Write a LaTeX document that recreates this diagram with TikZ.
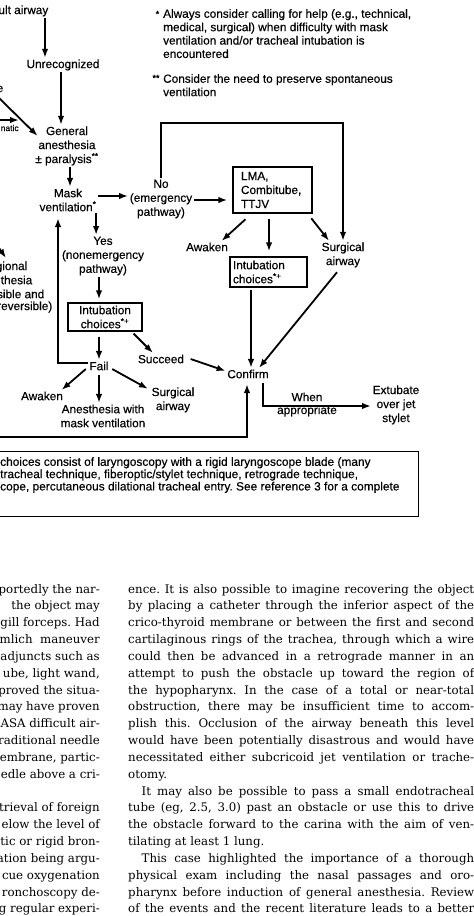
\documentclass[tikz,border=0pt]{standalone}
\usepackage{fontspec}
\setmainfont{DejaVu Serif}
\newfontfamily\diagsans[FakeBold=0.35]{Liberation Sans}
\usetikzlibrary{arrows.meta}
\frenchspacing
\newcommand\jl[1]{\makebox[346pt][s]{#1}}
\newcommand\ji[1]{\makebox[332.5pt][s]{#1}}
\begin{document}
\begin{tikzpicture}[x=1pt,y=-1pt,
  dg/.style={font=\diagsans\fontsize{11.8}{14}\selectfont, inner sep=1.5pt, align=center},
  lgd/.style={font=\diagsans\fontsize{11.8}{13.4}\selectfont, inner sep=0pt, align=left, anchor=north west},
  bxn/.style={draw, line width=1.2pt, font=\diagsans\fontsize{11.8}{14}\selectfont},
  ln/.style={line width=1.8pt, line join=miter},
  arr/.style={line width=1.8pt, line join=miter, -{Latex[length=9pt,width=6.5pt]}},
  bl/.style={font=\fontsize{11.8}{14}\selectfont, inner sep=0pt, anchor=base east},
  br/.style={font=\fontsize{11.8}{14}\selectfont, inner sep=0pt, anchor=base west},
]
\useasboundingbox (0,0) rectangle (474,916);
\fill[white] (0,0) rectangle (474,916);

% ---------- diagram nodes ----------
\node[dg, anchor=east] (ua) at (50,11) {ult airway};
\node[dg] (unr) at (63,65) {Unrecognized};
\node[dg] (ga) at (67,146) {General\\anesthesia\\± paralysis\textsuperscript{**}};
\node[dg] (mask) at (68,200) {Mask\\ventilation\textsuperscript{*}};
\node[dg] (no) at (161,199) {No\\(emergency\\pathway)};
\node[dg] (yes) at (103,256) {Yes\\(nonemergency\\pathway)};
\node[bxn, minimum width=79pt, minimum height=46pt, text width=63pt, inner xsep=8pt, inner ysep=0pt, align=left] (lma) at (272.5,190) {LMA,\\Combitube,\\TTJV};
\node[dg] (aw1) at (207,247) {Awaken};
\node[dg] (sa1) at (343,255) {Surgical\\airway};
\node[bxn, minimum height=30pt, text width=71pt, inner xsep=3pt, inner ysep=0pt, align=left] (ib2) at (268.5,272) {Intubation\\choices\textsuperscript{*+}};
\node[dg] (conf) at (248,374) {Confirm};
\node[bxn, minimum width=74pt, minimum height=28pt, inner sep=0pt, align=center] (ib1) at (105,317) {Intubation\\choices\textsuperscript{*+}};
\node[dg] (suc) at (161,359) {Succeed};
\node[dg] (fail) at (99,366) {Fail};
\node[dg] (aw2) at (42,396) {Awaken};
\node[dg] (amv) at (103,416) {Anesthesia with\\mask ventilation};
\node[dg] (sa2) at (173,400) {Surgical\\airway};
\node[dg] (ext) at (396,405) {Extubate\\over jet\\stylet};
\node[dg] (when) at (307,397) {When};
\node[dg] (appr) at (307,411) {appropriate};

% left-edge fragments
\node[dg, anchor=east] (le) at (5,89) {e};
\node[dg, anchor=west, font=\diagsans\fontsize{8.5}{10}\selectfont] (nat) at (-1,128) {natic};
\node[dg, anchor=east] (rg1) at (29,267) {gional};
\node[dg, anchor=east] (rg2) at (34,280) {thesia};
\node[dg, anchor=east] (rg3) at (46,294) {sible and};
\node[dg, anchor=east] (rg4) at (54,307) {reversible)};

% legend
\node[font=\diagsans\fontsize{9}{10}\selectfont, inner sep=0pt] (m1) at (157.5,14) {*};
\node[lgd] (lg1) at (163,9) {Always consider calling for help (e.g., technical,\\medical, surgical) when difficulty with mask\\ventilation and/or tracheal intubation is\\encountered};
\node[font=\diagsans\fontsize{9}{10}\selectfont, inner sep=0pt] (m2) at (156,78) {**};
\node[lgd] (lg2) at (163,74) {Consider the need to preserve spontaneous\\ventilation};

% ---------- connectors ----------
\draw[arr] ([xshift=-5pt]ua.south east) -- ([xshift=-5pt]ua.south east |- unr.north);
\draw[arr] ([xshift=-2pt]unr.south) -- ([xshift=-2pt]unr.south |- ga.north);
\draw[arr] ([xshift=3pt]ga.south) -- ([xshift=3pt]ga.south |- mask.north);
\draw[arr] ([yshift=4pt]mask.east) -- ([yshift=4pt]mask.east -| no.west);
\draw[arr, shorten >=5pt] ([yshift=-1pt]no.east) -- ([yshift=-1pt]no.east -| lma.west);
\coordinate (lpc) at (343,123);
\draw[arr] (no.north) |- (lpc) -- (sa1.north);
\draw[arr] ([xshift=-2pt]mask.south east) -- ([xshift=-2pt]mask.south east |- yes.north);
\draw[arr, shorten >=3pt] ([xshift=-4pt]yes.south) -- ([xshift=-4pt]yes.south |- ib1.north);
\draw[arr, shorten <=4pt] ([xshift=16pt,yshift=-3pt]lma.south west) -- ([xshift=-8pt]aw1.north east);
\draw[arr, shorten <=5pt, shorten >=5pt] ([xshift=-3.5pt]lma.south) -- ([xshift=-3.5pt]lma.south |- ib2.north);
\draw[arr, shorten <=6pt] ([xshift=-5pt]lma.south east) -- ([xshift=-14pt]sa1.north);
\draw[arr, shorten <=2pt] ([xshift=-17.5pt]ib2.south) -- ([xshift=-17.5pt]ib2.south |- conf.north);
\draw[arr] ([xshift=-6pt,yshift=-3pt]sa1.south) -- ([xshift=11pt]conf.north);
\draw[arr] ([xshift=-9pt,yshift=-2pt]ib1.south east) -- ([xshift=-8pt]suc.north);
\draw[arr] ([xshift=5pt]suc.east) -- ([yshift=3pt]conf.west);
\draw[arr, shorten <=5pt] ([xshift=-6pt]ib1.south) -- ([xshift=-6pt]ib1.south |- fail.north);
\draw[arr, shorten >=5pt] ([yshift=3pt]fail.west) -| ([xshift=-10pt]mask.south);
\draw[arr] ([xshift=-2pt,yshift=3pt]fail.south west) -- ([xshift=-3pt]aw2.north east);
\draw[arr, shorten <=3pt] (fail.south) -- (fail.south |- amv.north);
\draw[arr] ([xshift=2pt,yshift=3pt]fail.south east) -- ([xshift=-2pt,yshift=-3pt]sa2.north west);
\coordinate (bl) at (-2,437);
\draw[arr, shorten >=4pt] (bl) -| ([xshift=-1pt]conf.south);
\draw[arr, shorten <=3pt] ([xshift=15pt]conf.south) |- ([yshift=-1pt]ext.west);
\coordinate (lf1) at (-1,98);
\draw[arr] (lf1) -- ([xshift=4pt,yshift=10pt]ga.west);
\coordinate (lf2) at (-1,120);
\coordinate (lf2e) at (19,120);
\draw[arr] (lf2) -- (lf2e);
\coordinate (rga) at (-1,248);
\coordinate (rgb) at (6,258);
\draw[arr] (rga) -- (rgb);

% ---------- footnote box ----------
\node[draw, line width=1pt, anchor=north west, minimum width=421pt, minimum height=65pt, inner sep=0pt] (fnbox) at (-3,451) {};
\node[anchor=north west, align=left, inner sep=0pt, font=\diagsans\fontsize{11.9}{12.3}\selectfont] (fn) at (0,457) {choices consist of laryngoscopy with a rigid laryngoscope blade (many\\tracheal technique, fiberoptic/stylet technique, retrograde technique,\\cope, percutaneous dilational tracheal entry. See reference 3 for a complete};

% ---------- body text, left column ----------
\node[bl] (l0) at (100,593.00) {portedly the nar-};
\node[bl] (l1) at (100,609.84) {the object may};
\node[bl] (l2) at (100,626.68) {gill forceps. Had};
\node[bl] (l3) at (100,643.52) {mlich\ \ maneuver};
\node[bl] (l4) at (100,660.36) {adjuncts such as};
\node[bl] (l5) at (100,677.20) {ube, light wand,};
\node[bl] (l6) at (100,694.04) {proved the situa-};
\node[bl] (l7) at (100,710.88) {may have proven};
\node[bl] (l8) at (100,727.72) {ASA difficult air-};
\node[bl] (l9) at (100,744.56) {raditional needle};
\node[bl] (l10) at (100,761.40) {embrane, partic-};
\node[bl] (l11) at (100,778.24) {edle above a cri-};
\node[bl] (l13) at (100,811.92) {trieval of foreign};
\node[bl] (l14) at (100,828.76) {elow the level of};
\node[bl] (l15) at (100,845.60) {tic or rigid bron-};
\node[bl] (l16) at (100,862.44) {ation being argu-};
\node[bl] (l17) at (100,879.28) {cue oxygenation};
\node[bl] (l18) at (100,896.12) {ronchoscopy de-};
\node[bl] (l19) at (100,912.96) {g regular experi-};

% ---------- body text, right column ----------
\node[br] (r0) at (128,593.00) {\jl{ence. It is also possible to imagine recovering the object}};
\node[br] (r1) at (128,609.84) {\jl{by placing a catheter through the inferior aspect of the}};
\node[br] (r2) at (128,626.68) {\jl{crico-thyroid membrane or between the first and second}};
\node[br] (r3) at (128,643.52) {\jl{cartilaginous rings of the trachea, through which a wire}};
\node[br] (r4) at (128,660.36) {\jl{could then be advanced in a retrograde manner in an}};
\node[br] (r5) at (128,677.20) {\jl{attempt to push the obstacle up toward the region of}};
\node[br] (r6) at (128,694.04) {\jl{the hypopharynx. In the case of a total or near-total}};
\node[br] (r7) at (128,710.88) {\jl{obstruction, there may be insufficient time to accom-}};
\node[br] (r8) at (128,727.72) {\jl{plish this. Occlusion of the airway beneath this level}};
\node[br] (r9) at (128,744.56) {\jl{would have been potentially disastrous and would have}};
\node[br] (r10) at (128,761.40) {\jl{necessitated either subcricoid jet ventilation or trache-}};
\node[br] (r11) at (128,778.24) {otomy.};
\node[br] (r12) at (141.5,795.08) {\ji{It may also be possible to pass a small endotracheal}};
\node[br] (r13) at (128,811.92) {\jl{tube (eg, 2.5, 3.0) past an obstacle or use this to drive}};
\node[br] (r14) at (128,828.76) {\jl{the obstacle forward to the carina with the aim of ven-}};
\node[br] (r15) at (128,845.60) {tilating at least 1 lung.};
\node[br] (r16) at (141.5,862.44) {\ji{This case highlighted the importance of a thorough}};
\node[br] (r17) at (128,879.28) {\jl{physical exam including the nasal passages and oro-}};
\node[br] (r18) at (128,896.12) {\jl{pharynx before induction of general anesthesia. Review}};
\node[br] (r19) at (128,912.96) {\jl{of the events and the recent literature leads to a better}};
\end{tikzpicture}
\end{document}
